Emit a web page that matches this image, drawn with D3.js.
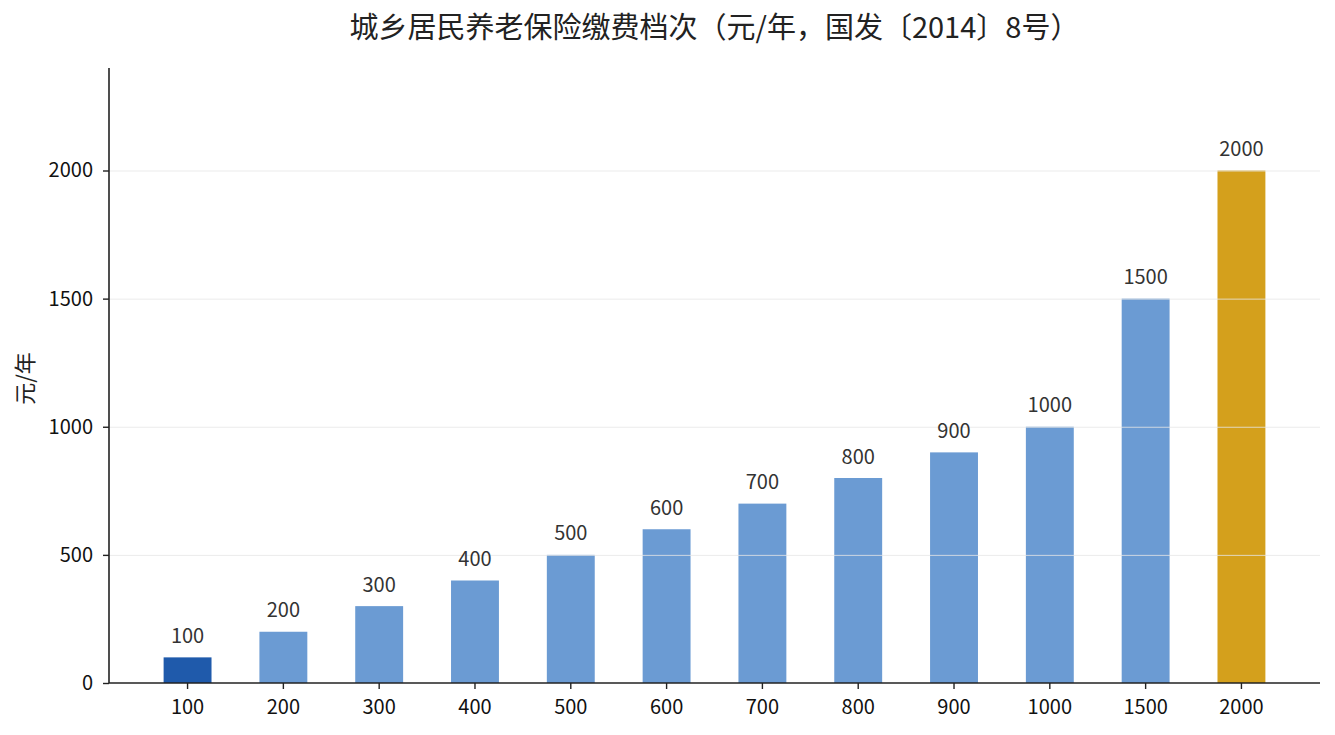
<!DOCTYPE html>
<html>
<head>
<meta charset="utf-8">
<script src="https://cdn.jsdelivr.net/npm/d3@7"></script>
<style>
  body { margin: 0; background: #fff; }
  svg text { font-family: "Noto Sans CJK SC", "Noto Sans", sans-serif; }
</style>
</head>
<body>
<div id="content"></div>
<script>
// data
let levels = ["100", "200", "300", "400", "500", "600", "700", "800", "900", "1000", "1500", "2000"];
let amounts = [100, 200, 300, 400, 500, 600, 700, 800, 900, 1000, 1500, 2000];
let yTicks = [0, 500, 1000, 1500, 2000];
let titleText = "城乡居民养老保险缴费档次（元/年，国发〔2014〕8号）";
let yLabel = "元/年";

const W = 1335, H = 735;
const margin = {top: 68, right: 15, bottom: 52, left: 109},
    width = W - margin.left - margin.right,
    height = H - margin.top - margin.bottom;

function barColor(i)
{
    if (i == 0) return "#1f5aab";
    if (i == amounts.length - 1) return "#d4a01c";
    return "#6b9bd3";
}

let svg = d3.select("#content")
    .append("svg")
    .attr("width", W)
    .attr("height", H);

let g = svg.append("g")
    .attr("transform", "translate(" + margin.left + "," + margin.top + ")");

const x = d3.scaleBand()
    .domain(levels)
    .range([0, width])
    .paddingInner(0.5)
    .paddingOuter(0.57);

const y = d3.scaleLinear()
    .domain([0, 2400])
    .range([height, 0]);

// bars
g.append("g")
    .selectAll("rect")
    .data(amounts)
    .enter()
    .append("rect")
    .attr("x", function(d, i) { return x(levels[i]); })
    .attr("y", function(d) { return y(d); })
    .attr("width", x.bandwidth())
    .attr("height", function(d) { return height - y(d); })
    .attr("fill", function(d, i) { return barColor(i); });

// grid on top of bars, faint
g.append("g")
    .selectAll("line")
    .data(yTicks.slice(1))
    .enter()
    .append("line")
    .attr("x1", 0)
    .attr("x2", width)
    .attr("y1", function(d) { return y(d) + 0.5; })
    .attr("y2", function(d) { return y(d) + 0.5; })
    .attr("stroke", "#e6e6e6")
    .attr("stroke-opacity", 0.8)
    .attr("stroke-width", 1);

// value labels
g.append("g")
    .selectAll("text")
    .data(amounts)
    .enter()
    .append("text")
    .attr("x", function(d, i) { return x(levels[i]) + x.bandwidth() / 2; })
    .attr("y", function(d) { return y(d) - 14.5; })
    .attr("text-anchor", "middle")
    .attr("font-size", "20px")
    .attr("fill", "#333")
    .text(function(d) { return d; });

// axes
let yAxis = g.append("g")
    .call(d3.axisLeft(y).tickValues(yTicks).tickFormat(d3.format("d")).tickSize(6).tickPadding(10));

let xAxis = g.append("g")
    .attr("transform", "translate(0," + height + ")")
    .call(d3.axisBottom(x).tickSize(6).tickPadding(11));

[xAxis, yAxis].forEach(function(a)
{
    a.select(".domain").attr("stroke", "#222").attr("stroke-width", 1.6);
    a.selectAll(".tick line").attr("stroke", "#222").attr("stroke-width", 1.4);
    a.selectAll(".tick text")
        .attr("font-size", "20px")
        .attr("fill", "#111")
        .style("font-family", "'Noto Sans CJK SC', 'Noto Sans', sans-serif");
});
// drop the outer tick caps d3 draws on the domain path
yAxis.select(".domain").attr("d", "M0," + height + "V0");
xAxis.select(".domain").attr("d", "M0,0H" + width);

// title
svg.append("text")
    .attr("x", margin.left + width / 2)
    .attr("y", 38)
    .attr("text-anchor", "middle")
    .attr("font-size", "29px")
    .attr("fill", "#222")
    .text(titleText);

// y label
svg.append("text")
    .attr("transform", "translate(33," + (margin.top + height / 2 + 3) + ") rotate(-90)")
    .attr("text-anchor", "middle")
    .attr("font-size", "22px")
    .attr("fill", "#222")
    .text(yLabel);
</script>
</body>
</html>
